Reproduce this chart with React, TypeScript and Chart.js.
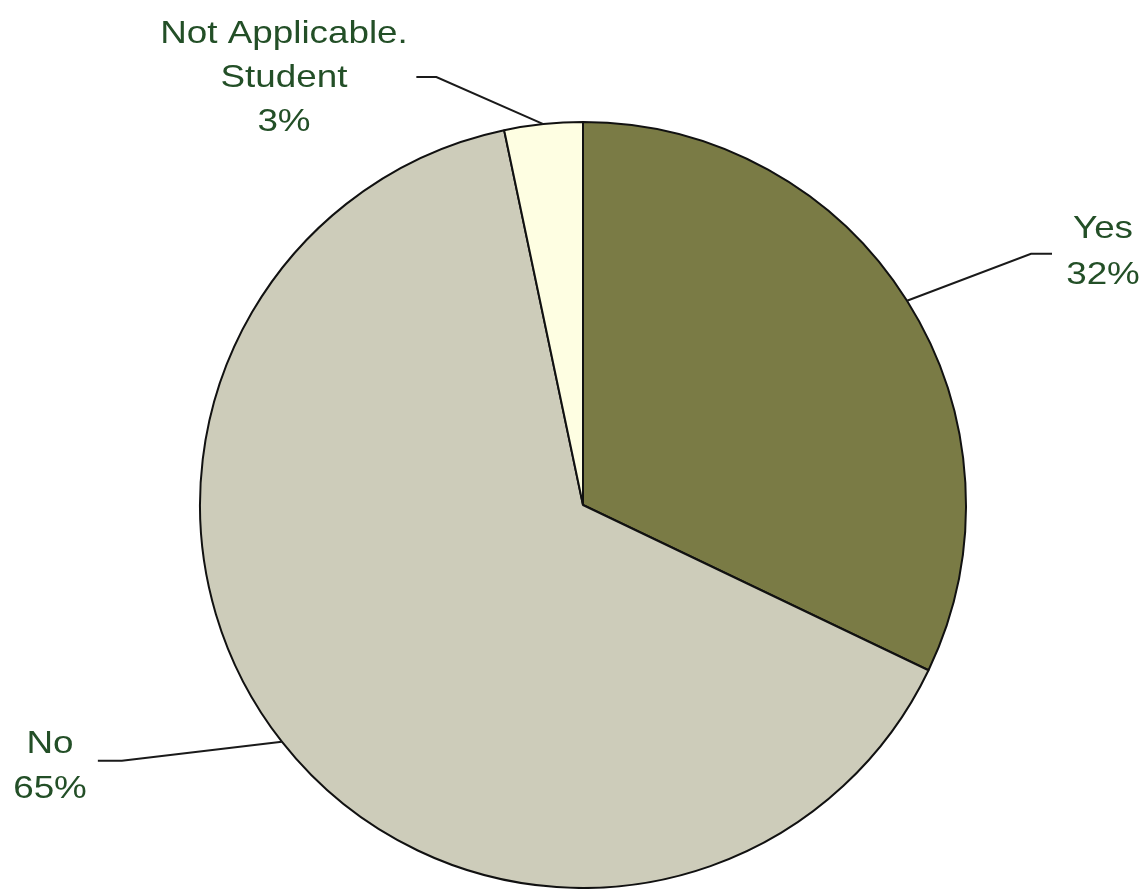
import React, { useEffect, useRef } from "react";
import { Chart, registerables } from "chart.js";

Chart.register(...registerables);

const categories = ["Yes", "No", "Not Applicable.\nStudent"];
const values = [32.1, 64.6, 3.3];
const colors = ["#7a7b45", "#cdccba", "#fefee2"];

// label layout (elbow offset from slice anchor, horizontal tick length, text center)
const labelLayout = [
  { elbow: [124, -47], tick: 21, text: [1103, 238], lineGap: 46 },
  { elbow: [-160, 19], tick: -24, text: [50, 753], lineGap: 45 },
  { elbow: [-107, -47], tick: -20, text: [284, 43], lineGap: 44 },
];

const labelPlugin = {
  id: "leaderLabels",
  afterDatasetsDraw(chart: any) {
    const ctx = chart.ctx;
    const meta = chart.getDatasetMeta(0);
    const data = chart.data.datasets[0].data as number[];
    const total = data.reduce((a, b) => a + b, 0);
    meta.data.forEach((arc: any, i: number) => {
      const { x, y, startAngle, endAngle, outerRadius } = arc.getProps(
        ["x", "y", "startAngle", "endAngle", "outerRadius"],
        true
      );
      const mid = (startAngle + endAngle) / 2;
      const ax = x + Math.cos(mid) * outerRadius;
      const ay = y + Math.sin(mid) * outerRadius;
      const L = labelLayout[i];
      const ex = ax + L.elbow[0];
      const ey = ay + L.elbow[1];
      ctx.save();
      ctx.strokeStyle = "#1a1a1a";
      ctx.lineWidth = 2;
      ctx.beginPath();
      ctx.moveTo(ax, ay);
      ctx.lineTo(ex, ey);
      ctx.lineTo(ex + L.tick, ey);
      ctx.stroke();
      const lines = String(chart.data.labels[i]).split("\n");
      lines.push(Math.round((data[i] / total) * 100) + "%");
      ctx.fillStyle = "#234f27";
      ctx.font = "32px 'Liberation Sans', Arial, sans-serif";
      ctx.textAlign = "center";
      ctx.textBaseline = "alphabetic";
      lines.forEach((t, k) => {
        ctx.save();
        ctx.translate(L.text[0], L.text[1] + k * L.lineGap);
        ctx.scale(1.15, 1);
        ctx.fillText(t, 0, 0);
        ctx.restore();
      });
      ctx.restore();
    });
  },
};

export default function App() {
  const ref = useRef<HTMLCanvasElement>(null);
  useEffect(() => {
    document.body.style.margin = "0";
    const chart = new Chart(ref.current!, {
      type: "pie",
      data: {
        labels: categories,
        datasets: [
          {
            data: values,
            backgroundColor: colors,
            borderColor: "#111111",
            borderWidth: 2,
          },
        ],
      },
      options: {
        responsive: false,
        animation: false,
        layout: { padding: { top: 121, bottom: 0, left: 199, right: 178 } },
        plugins: {
          legend: { display: false },
          tooltip: { enabled: false },
        },
      },
      plugins: [labelPlugin],
    });
    return () => chart.destroy();
  }, []);
  return (
    <div style={{ width: 1145, height: 889, background: "#fff" }}>
      <canvas ref={ref} width={1145} height={889} />
    </div>
  );
}
